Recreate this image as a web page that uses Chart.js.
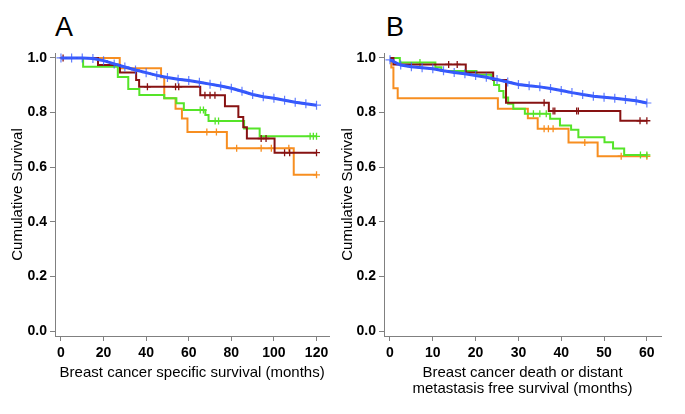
<!DOCTYPE html>
<html>
<head>
<meta charset="utf-8">
<script src="https://cdn.jsdelivr.net/npm/chart.js@4.4.1/dist/chart.umd.min.js"></script>
<style>
body{margin:0;background:#fff;width:685px;height:414px;overflow:hidden;position:relative;font-family:"Liberation Sans",Arial,sans-serif}
canvas{position:absolute;top:0}
#chartA{left:0}
#chartB{left:335px}
.panel{position:absolute;top:14px;font-size:27px;line-height:1;color:#000}
</style>
</head>
<body>
<div class="panel" style="left:55px">A</div>
<div class="panel" style="left:386px">B</div>
<canvas id="chartA" width="335" height="414"></canvas>
<canvas id="chartB" width="350" height="414"></canvas>
<script>
// colours of the four groups
var colBlue = "rgb(50,85,250)";
var colGreen = "rgb(85,228,40)";
var colOrange = "rgb(247,142,32)";
var colRed = "rgb(135,18,18)";

// ---- panel A : breast cancer specific survival (months 0-120)
var blueMonthsA = [0,5,10,15,20,25,30,35,40,45,50,55,60,65,70,75,80,85,90,95,100,105,110,115,120];
var blueSurvA   = [1,1,1,0.998,0.99,0.978,0.967,0.956,0.946,0.936,0.928,0.922,0.917,0.911,0.904,0.897,0.889,0.878,0.866,0.858,0.852,0.845,0.838,0.832,0.827];

var orangeTimesA = [0,27.6,47,48.5,53.8,56.8,59.4,77.9,109.3,120];
var orangeSurvA  = [1,0.962,0.929,0.852,0.814,0.778,0.729,0.669,0.572,0.572];
var orangeCensA  = [68.5,73,82.5,94,98.8,107,120];

var greenTimesA = [0,10.4,26.7,31.6,36.8,48.5,54.2,57.7,67.8,69.3,86,93.3,120];
var greenSurvA  = [1,0.968,0.930,0.886,0.864,0.852,0.834,0.809,0.791,0.769,0.742,0.713,0.713];
var greenCensA  = [65.4,66.9,72.4,74,117,118.5,120];

var redTimesA = [0,17.4,27.7,35.3,36.7,65.4,77,83.3,85.6,87.3,100.3,120];
var redSurvA  = [1,0.974,0.947,0.919,0.894,0.863,0.823,0.784,0.746,0.705,0.653,0.653];
var redCensA  = [1,40.6,53.8,55.3,67.6,70,72.3,94,96.3,105,107.4,120];

// ---- panel B : death or distant metastasis free survival (months 0-60)
var blueMonthsB = [0,2.5,5,7.5,10,12.5,15,17.5,20,22.5,25,27.5,30,32.5,35,37.5,40,42.5,45,47.5,50,52.5,55,57.5,60];
var blueSurvB   = [0.993,0.974,0.968,0.964,0.96,0.953,0.947,0.942,0.936,0.929,0.921,0.912,0.903,0.898,0.894,0.888,0.881,0.873,0.866,0.860,0.856,0.852,0.848,0.843,0.835];

var orangeTimesB = [0,0.3,0.8,1.8,25.2,32.2,34.5,41.7,48.5,60];
var orangeSurvB  = [1,0.965,0.889,0.852,0.814,0.779,0.741,0.690,0.640,0.640];
var orangeCensB  = [36,37,38.1,45.5,54,60];

var greenTimesB = [0,2.3,10.6,12,20.2,23.7,24.3,25.5,26.5,27.6,28.8,31.5,37.4,39.7,42.3,44,50.1,52.1,54.7,60];
var greenSurvB  = [1,0.983,0.966,0.952,0.938,0.922,0.901,0.879,0.855,0.832,0.814,0.796,0.777,0.753,0.737,0.710,0.691,0.668,0.645,0.645];
var greenCensB  = [7,33.5,35,36.5,58.5,60];

var redTimesB = [0,0.8,17.7,24.1,27.1,37.1,53.8,60];
var redSurvB  = [1,0.976,0.947,0.919,0.836,0.806,0.770,0.770];
var redCensB  = [13.7,15.7,36,38.1,38.5,43.6,44,58.4,60];

var yTicks = [0,0.2,0.4,0.6,0.8,1.0];
var xTicksA = [0,20,40,60,80,100,120];
var xTicksB = [0,10,20,30,40,50,60];

function survAt(times, surv, t) {
    var s = surv[0];
    for (var i = 0; i < times.length; i++) {
        if (times[i] <= t) s = surv[i];
    }
    return s;
}

function pts(xs, ys) {
    return xs.map(function (x, i) { return {x: x, y: ys[i]}; });
}

function stepSet(times, surv, color) {
    return {type: 'line', data: pts(times, surv), borderColor: color, borderWidth: 2,
            stepped: 'before', pointRadius: 0, fill: false};
}

function censSet(times, surv, cens, color) {
    return {type: 'line', showLine: false,
            data: cens.map(function (t) { return {x: t, y: survAt(times, surv, t)}; }),
            pointStyle: 'cross', pointRadius: 3.5, borderColor: color, borderWidth: 1.3};
}

// blue group: many censored cases, drawn as a band of crosses
function blueSet(xs, ys) {
    return {type: 'line', data: pts(xs, ys), borderColor: colBlue, borderWidth: 3,
            pointStyle: 'cross', pointRadius: 4.5, pointBorderWidth: 1.2,
            pointBorderColor: "rgba(60,95,255,0.8)", tension: 0, fill: false};
}

function makeChart(id, datasets, xMin, xMax, xTicks, xTitle, yWidth, yTitlePad, xTitlePad) {
    var ctx = document.getElementById(id).getContext('2d');
    return new Chart(ctx, {
        type: 'line',
        data: {datasets: datasets},
        options: {
            responsive: false,
            animation: false,
            events: [],
            layout: {padding: {top: 53, right: (id == 'chartA' ? 3 : 24), left: 0, bottom: 0}},
            plugins: {legend: {display: false}, tooltip: {enabled: false}},
            scales: {
                x: {
                    type: 'linear', min: xMin, max: xMax,
                    afterBuildTicks: function (s) { s.ticks = xTicks.map(function (v) { return {value: v}; }); },
                    afterFit: function (s) { s.height = 78; },
                    border: {color: '#808080', width: 1},
                    grid: {drawOnChartArea: false, drawTicks: true, tickLength: 5, color: '#808080'},
                    ticks: {color: '#000', padding: 4, maxRotation: 0,
                            font: {family: 'Liberation Sans, Arial', size: 14, weight: 'bold'}},
                    title: {display: true, text: xTitle, color: '#000',
                            font: {family: 'Liberation Sans, Arial', size: 15, lineHeight: 1.03},
                            padding: {top: 0, bottom: xTitlePad}}
                },
                y: {
                    type: 'linear', min: -0.018, max: 1.018,
                    afterBuildTicks: function (s) { s.ticks = yTicks.map(function (v) { return {value: v}; }); },
                    afterFit: function (s) { s.width = yWidth; },
                    border: {color: '#808080', width: 1},
                    grid: {drawOnChartArea: false, drawTicks: true, tickLength: 5, color: '#808080'},
                    ticks: {color: '#000', padding: 3,
                            font: {family: 'Liberation Sans, Arial', size: 14, weight: 'bold'},
                            callback: function (v) { return v.toFixed(1); }},
                    title: {display: true, text: 'Cumulative Survival', color: '#000',
                            font: {family: 'Liberation Sans, Arial', size: 15, lineHeight: 1},
                            padding: {top: yTitlePad, bottom: 0}}
                }
            }
        }
    });
}

var setsA = [
    blueSet(blueMonthsA, blueSurvA),
    stepSet(redTimesA, redSurvA, colRed),
    censSet(redTimesA, redSurvA, redCensA, colRed),
    stepSet(greenTimesA, greenSurvA, colGreen),
    censSet(greenTimesA, greenSurvA, greenCensA, colGreen),
    stepSet(orangeTimesA, orangeSurvA, colOrange),
    censSet(orangeTimesA, orangeSurvA, orangeCensA, colOrange)
];

var setsB = [
    blueSet(blueMonthsB, blueSurvB),
    stepSet(redTimesB, redSurvB, colRed),
    censSet(redTimesB, redSurvB, redCensB, colRed),
    stepSet(greenTimesB, greenSurvB, colGreen),
    censSet(greenTimesB, greenSurvB, greenCensB, colGreen),
    stepSet(orangeTimesB, orangeSurvB, colOrange),
    censSet(orangeTimesB, orangeSurvB, orangeCensB, colOrange)
];

makeChart('chartA', setsA, -2.8, 126, xTicksA,
          'Breast cancer specific survival (months)', 55, 10.5, 33.5);
makeChart('chartB', setsB, -1.4, 63.3, xTicksB,
          ['Breast cancer death or distant', 'metastasis free survival (months)'], 49, 5, 17.75);
</script>
</body>
</html>
